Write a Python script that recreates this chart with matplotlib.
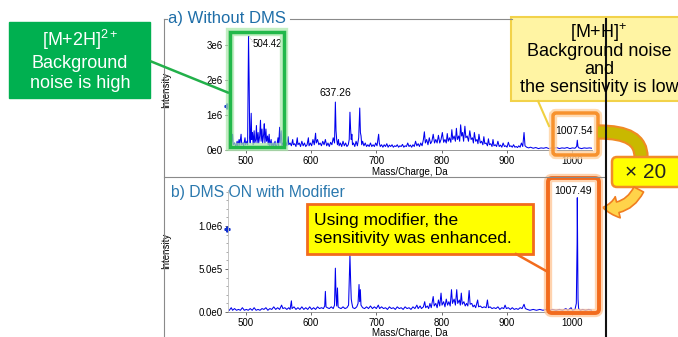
import matplotlib
matplotlib.use('Agg')
import matplotlib.pyplot as plt
import numpy as np
from matplotlib.patches import FancyBboxPatch, Rectangle, FancyArrowPatch
from matplotlib.path import Path
from matplotlib.patches import PathPatch

plt.rcParams['font.family'] = ['Liberation Sans', 'DejaVu Sans']
plt.rcParams['mathtext.fontset'] = 'custom'
plt.rcParams['mathtext.rm'] = 'Liberation Sans'
plt.rcParams['mathtext.it'] = 'Liberation Sans:italic'
plt.rcParams['mathtext.bf'] = 'Liberation Sans:bold'

# ---------------- data ----------------
# panel a) Without DMS : profile (m/z, intensity in units of 1e6)
mz_a = [475, 477, 478, 480, 481, 483, 485, 487, 488, 490, 491, 493, 494, 496, 497, 499, 500, 502, 503,
        504.4, 505.4, 506.2, 507, 508.5, 509.3, 510.5, 511.5, 513, 514, 515.5, 516.5, 517.5, 519, 520,
        521.5, 522.7, 523.7, 525, 526, 527.5, 528.5, 529.5, 531, 532, 533.5, 534.5, 536, 537, 539, 540,
        542, 543, 545, 546, 548, 549.5, 550.5, 552, 553, 554.5, 555.5, 557, 559, 561, 563, 565, 566, 568,
        570, 572, 573, 575, 577, 579, 580, 582, 584, 586, 588, 590, 592, 594, 596, 597, 599, 601, 603,
        605, 607, 608, 610, 612, 614, 616, 618, 620, 622, 624, 626, 628, 630, 632, 634, 636, 637.3, 638.3,
        639.3, 640.5, 642, 643, 645, 647, 649, 651, 653, 655, 657, 658.5, 659.6, 660.6, 661.6, 662.5,
        663.5, 665, 667, 669, 671, 673, 674.6, 675.6, 676.6, 677.6, 679, 681, 683, 685, 687, 689, 691,
        693, 695, 697, 699, 701, 703.5, 704.5, 706, 708, 710, 712, 714, 716, 718, 720, 722, 724, 726, 728,
        730, 732, 734, 736, 738, 740, 742, 744, 746, 748, 750, 752, 754, 756, 758, 760, 762, 764, 766,
        768, 770, 772, 773.5, 775, 777, 779, 781, 783, 785, 787, 789, 791, 793, 795, 797, 799, 801, 803,
        805, 807, 808.5, 810, 812, 814, 815.5, 817, 819, 821, 822.5, 824, 826, 827.5, 829, 830.5, 832,
        833.5, 835.5, 837, 839, 841, 843, 845, 847, 848.5, 850, 852, 854, 855.5, 857, 859, 861, 863,
        864.5, 866, 868, 870, 871.5, 873, 875, 877, 878.5, 880, 882, 884, 886, 888, 890, 892, 894, 896,
        898, 900, 902, 904, 906, 908, 910, 912, 914, 916, 918, 920, 922, 924, 926, 927.5, 930, 933, 936,
        940, 944, 948, 952, 956, 960, 964, 968, 972, 976, 980, 984, 988, 992, 996, 1000, 1004, 1006.5,
        1007.5, 1008.5, 1010, 1014, 1018, 1022, 1026, 1030]
int_a = [0.15, 0.3, 0.12, 0.45, 0.15, 0.2, 0.1, 0.25, 0.12, 0.3, 0.14, 0.45, 0.15, 0.2, 0.12, 0.35, 0.15, 0.25, 0.15,
         3.25, 1.9, 0.35, 0.2, 1.05, 0.3, 0.5, 0.15, 0.55, 0.2, 0.3, 0.7, 0.2, 0.5, 0.2,
         0.4, 0.85, 0.25, 0.6, 0.2, 0.45, 0.75, 0.2, 0.6, 0.25, 0.4, 0.15, 0.45, 0.12, 0.3, 0.1,
         0.2, 0.1, 0.25, 0.1, 0.15, 0.35, 0.12, 0.65, 0.2, 0.55, 0.12, 0.2, 0.1, 0.25, 0.12, 0.38, 0.15, 0.2,
         0.12, 0.3, 0.15, 0.18, 0.1, 0.35, 0.15, 0.2, 0.1, 0.25, 0.12, 0.2, 0.1, 0.15, 0.35, 0.12, 0.2, 0.12, 0.3,
         0.15, 0.48, 0.2, 0.3, 0.15, 0.2, 0.12, 0.25, 0.15, 0.3, 0.12, 0.2, 0.1, 0.22, 0.15, 0.35, 0.2, 1.37, 0.55,
         0.3, 0.15, 0.3, 0.12, 0.2, 0.1, 0.25, 0.12, 0.2, 0.1, 0.15, 0.3, 1.08, 0.6, 0.3, 0.45,
         0.15, 0.2, 0.1, 0.25, 0.12, 0.35, 1.2, 0.5, 0.4, 0.15, 0.25, 0.12, 0.2, 0.1, 0.15, 0.1, 0.2,
         0.1, 0.15, 0.1, 0.2, 0.12, 0.45, 0.2, 0.1, 0.15, 0.08, 0.15, 0.1, 0.18, 0.08, 0.14, 0.1, 0.15, 0.08, 0.12,
         0.1, 0.15, 0.08, 0.12, 0.1, 0.16, 0.08, 0.12, 0.1, 0.2, 0.1, 0.14, 0.08, 0.15, 0.1, 0.25, 0.12, 0.18, 0.1,
         0.2, 0.12, 0.3, 0.52, 0.2, 0.3, 0.15, 0.35, 0.18, 0.25, 0.45, 0.2, 0.3, 0.2, 0.42, 0.2, 0.3, 0.5, 0.22,
         0.3, 0.2, 0.47, 0.25, 0.35, 0.22, 0.58, 0.3, 0.4, 0.25, 0.62, 0.3, 0.4, 0.25, 0.72, 0.4, 0.5,
         0.25, 0.68, 0.35, 0.4, 0.25, 0.55, 0.3, 0.35, 0.2, 0.5, 0.25, 0.3, 0.18, 0.45, 0.2, 0.25, 0.15,
         0.38, 0.18, 0.2, 0.12, 0.32, 0.15, 0.18, 0.1, 0.3, 0.12, 0.15, 0.1, 0.25, 0.1, 0.14, 0.08, 0.2, 0.1,
         0.12, 0.08, 0.22, 0.1, 0.12, 0.08, 0.15, 0.08, 0.1, 0.07, 0.12, 0.08, 0.2, 0.1, 0.5, 0.12, 0.08, 0.06, 0.08,
         0.05, 0.07, 0.04, 0.06, 0.05, 0.07, 0.04, 0.06, 0.05, 0.07, 0.04, 0.06, 0.05, 0.07, 0.04, 0.06, 0.05, 0.1,
         0.28, 0.1, 0.06, 0.04, 0.06, 0.05, 0.06, 0.05]

# panel b) DMS ON with Modifier : profile (m/z, intensity in units of 1e6)
mz_b = [475, 478, 480, 483, 486, 489, 492, 495, 498, 501, 504, 507, 510, 513, 516, 519, 522, 525, 528, 531,
        534, 537, 540, 543, 546, 549, 552, 555, 557, 560, 563, 566, 568, 570, 571, 574, 577, 580, 583, 586,
        589, 592, 595, 598, 601, 604, 607, 610, 613, 616, 619, 621, 622, 623, 625, 628, 631, 634, 636,
        637.3, 638.3, 639.3, 640.5, 641.5, 643, 646, 649, 652, 655, 657.5, 659.6, 660.6, 661.6, 662.6, 664,
        667, 670, 672, 673.5, 674.5, 675.5, 676.5, 679, 682, 685, 688, 691, 694, 697, 700, 703, 705, 708,
        711, 714, 717, 720, 723, 726, 729, 732, 735, 738, 741, 744, 747, 750, 753, 756, 759, 762, 764, 767,
        769, 772, 774, 775.5, 778, 780, 782, 784, 787, 788.5, 791, 793, 795, 797, 799, 800.5, 803, 805,
        807, 809, 811, 813, 815, 816.5, 819, 821, 823, 824.5, 827, 828.5, 830, 831.5, 834, 836, 838, 840,
        842, 843.5, 846, 848, 850, 852, 855, 856.5, 859, 862, 865, 868, 870, 871.5, 874, 877, 880, 883,
        886, 889, 892, 895, 897, 899, 902, 905, 908, 911, 914, 917, 920, 923, 926, 928, 931, 935, 940,
        945, 950, 955, 960, 965, 970, 975, 980, 985, 990, 993, 998, 1000, 1004, 1006, 1007.2, 1007.5,
        1008, 1008.6, 1009.5, 1012, 1016, 1020, 1025, 1030]
int_b = [0.02, 0.05, 0.02, 0.04, 0.02, 0.03, 0.02, 0.05, 0.02, 0.03, 0.02, 0.04, 0.02, 0.05, 0.02, 0.03, 0.02, 0.04, 0.03, 0.05,
         0.02, 0.04, 0.03, 0.06, 0.03, 0.05, 0.03, 0.08, 0.04, 0.05, 0.03, 0.05, 0.03, 0.13, 0.04, 0.06, 0.03, 0.05, 0.03, 0.06,
         0.03, 0.05, 0.03, 0.06, 0.03, 0.05, 0.03, 0.06, 0.04, 0.05, 0.04, 0.07, 0.24, 0.06, 0.05, 0.04, 0.06, 0.04, 0.08,
         0.51, 0.2, 0.07, 0.28, 0.06, 0.05, 0.04, 0.06, 0.04, 0.05, 0.08, 0.66, 0.38, 0.15, 0.1, 0.05,
         0.04, 0.06, 0.1, 0.32, 0.12, 0.26, 0.08, 0.05, 0.04, 0.06, 0.04, 0.07, 0.04, 0.06, 0.04, 0.08, 0.04, 0.06,
         0.04, 0.05, 0.03, 0.06, 0.04, 0.05, 0.03, 0.06, 0.04, 0.05, 0.03, 0.06, 0.04, 0.05, 0.03, 0.06, 0.04, 0.08, 0.04, 0.07,
         0.04, 0.06, 0.12, 0.05, 0.07, 0.04, 0.1, 0.05, 0.18, 0.07, 0.1, 0.05, 0.14, 0.07, 0.22, 0.08, 0.12, 0.06,
         0.15, 0.08, 0.12, 0.07, 0.26, 0.1, 0.15, 0.08, 0.26, 0.1, 0.14, 0.08, 0.22, 0.09, 0.12, 0.07, 0.1, 0.07,
         0.25, 0.09, 0.1, 0.06, 0.08, 0.05, 0.14, 0.06, 0.07, 0.05, 0.06, 0.05, 0.14, 0.05, 0.06, 0.04, 0.05, 0.04,
         0.06, 0.03, 0.05, 0.04, 0.08, 0.04, 0.05, 0.03, 0.05, 0.03, 0.04, 0.03, 0.05, 0.04, 0.09, 0.04, 0.03, 0.02, 0.03,
         0.02, 0.03, 0.02, 0.03, 0.02, 0.03, 0.02, 0.03, 0.02, 0.04, 0.02, 0.05, 0.02, 0.03, 0.1, 0.8, 1.33,
         0.8, 0.15, 0.04, 0.02, 0.03, 0.02, 0.03, 0.02]

# peak labels (m/z) and heights (1e6)
peaks_a = [504.42, 637.26, 1007.54]
peaks_a_h = [3.25, 1.37, 0.28]
peaks_b = [1007.49]
peaks_b_h = [1.33]

xticks = [500, 600, 700, 800, 900, 1000]
yticks_a = [0, 1e6, 2e6, 3e6]
yticklabels_a = ['0e0', '1e6', '2e6', '3e6']
yticks_b = [0, 5e5, 1e6]
yticklabels_b = ['0.0e0', '5.0e5', '1.0e6']

title_a = 'a) Without DMS'
title_b = 'b) DMS ON with Modifier'
xlabel = 'Mass/Charge, Da'
ylabel = 'Intensity'
note_top_lines = ['[M+H]$^{\\mathregular{+}}$', 'Background noise', 'and', 'the sensitivity is low']

# ---------------- figure ----------------
W, H = 678, 337
fig = plt.figure(figsize=(W / 100, H / 100), dpi=100)
fig.patch.set_facecolor('white')


def rect_ax(x0, y0, x1, y1):
    return [x0 / W, 1 - y1 / H, (x1 - x0) / W, (y1 - y0) / H]


axa = fig.add_axes(rect_ax(228, 30, 592, 150))
axb = fig.add_axes(rect_ax(228, 190, 592, 312))

spec_color = '#0000ee'
axa.plot(mz_a, np.array(int_a) * 1e6, color=spec_color, lw=0.75)
axb.plot(mz_b, np.array(int_b) * 1e6, color=spec_color, lw=0.75)

for ax, yt, ytl, ymax, lx, ly in [(axa, yticks_a, yticklabels_a, 3.43e6, -0.155, -0.14),
                                  (axb, yticks_b, yticklabels_b, 1.42e6, -0.155, -0.13)]:
    ax.set_xlim(473, 1030)
    ax.set_ylim(0, ymax)
    ax.set_xticks(xticks)
    ax.set_yticks(yt)
    ax.set_yticklabels(ytl)
    ax.tick_params(labelsize=7, length=2.5, width=0.6, color='#555555', pad=1.5)
    for s in ['top', 'right']:
        ax.spines[s].set_visible(False)
    ax.spines['left'].set_color('#bbbbbb')
    ax.spines['bottom'].set_color('#888888')
    ax.spines['left'].set_linewidth(0.6)
    ax.spines['bottom'].set_linewidth(0.6)
    ax.set_xlabel(xlabel, fontsize=7)
    ax.set_ylabel(ylabel, fontsize=7)
    ax.xaxis.set_label_coords(0.5, ly)
    ax.yaxis.set_label_coords(lx, 0.5)
    ax.patch.set_alpha(0)

axb.yaxis.set_minor_locator(matplotlib.ticker.MultipleLocator(1e5))
axb.tick_params(which='minor', length=1.5, width=0.5, color='#888888')

# small blue cursor markers
axa.plot([472], [1.27e6], marker='P', ms=3.5, color='#1030d0', clip_on=False)
axb.plot([472], [0.97e6], marker='P', ms=3.5, color='#1030d0', clip_on=False)

# peak labels
axa.text(peaks_a[0] + 6.5, peaks_a_h[0] * 1e6 * 0.93, f'{peaks_a[0]:.2f}', fontsize=7, ha='left', va='center')
axa.text(peaks_a[1], peaks_a_h[1] * 1e6 + 0.12e6, f'{peaks_a[1]:.2f}', fontsize=7.5, ha='center', va='bottom')
axa.text(peaks_a[2] - 5, peaks_a_h[2] * 1e6 + 0.12e6, f'{peaks_a[2]:.2f}', fontsize=7.5, ha='center', va='bottom')
axb.text(peaks_b[0] - 6, peaks_b_h[0] * 1e6 + 0.02e6, f'{peaks_b[0]:.2f}', fontsize=7.5, ha='center', va='bottom')
axa.plot([peaks_a[0] + 0.5, peaks_a[0] + 6], [3.25e6, 3.1e6], color='#555555', lw=0.5, ls=':')

# ---------------- overlay (pixel coords) ----------------
ov = fig.add_axes([0, 0, 1, 1], zorder=10)
ov.set_xlim(0, W)
ov.set_ylim(H, 0)
ov.axis('off')

frame_c = '#8a8a8a'
# panel frames
ov.plot([164, 164], [19, 176], color=frame_c, lw=0.8)
ov.plot([164, 167], [19, 19], color=frame_c, lw=0.8)
ov.plot([290, 512], [19, 19], color=frame_c, lw=0.8)
ov.plot([164, 606], [177, 177], color=frame_c, lw=0.8)
ov.plot([164, 164], [177, 337], color=frame_c, lw=0.8)
ov.plot([606, 606], [19, 337], color='#111111', lw=1.5)

ov.text(168, 19, title_a, fontsize=12, color='#1f6ea8', ha='left', va='center')
ov.text(171, 192, title_b, fontsize=11.3, color='#2a78ae', ha='left', va='center')

# green callout
ov.plot([150, 229], [61, 93], color='#22b04a', lw=1.8, solid_capstyle='butt')
ov.add_patch(Rectangle((9, 22), 141, 76, facecolor='#00b050', edgecolor='#00b050'))
ov.text(80, 60, '[M+2H]$^{\\mathregular{2+}}$\nBackground\nnoise is high', color='white',
        fontsize=13, ha='center', va='center', linespacing=1.2)
# green highlight rect with glow
ov.add_patch(Rectangle((230, 32), 54, 115, fill=False, edgecolor='#a8e8a8', lw=6, alpha=0.7))
ov.add_patch(Rectangle((230, 32), 54, 115, fill=False, edgecolor='#22b84a', lw=2.5))

# top yellow callout
ov.plot([538, 549], [101, 126], color='#f0d040', lw=1.5)
ov.add_patch(Rectangle((511, 17), 170, 84, facecolor='#fff4a3', edgecolor='#f2d24a', lw=1.5))
for txt, yy in zip(note_top_lines, [30, 49, 67.5, 86]):
    ov.text(599, yy, txt, fontsize=13, ha='center', va='center_baseline', color='black')

# top orange rect with glow
ov.add_patch(FancyBboxPatch((553, 113), 45, 42, boxstyle='round,pad=0,rounding_size=3',
                            fill=False, edgecolor='#ffd2a0', lw=6, alpha=0.8))
ov.add_patch(FancyBboxPatch((553, 113), 45, 42, boxstyle='round,pad=0,rounding_size=3',
                            fill=False, edgecolor='#f7922e', lw=2.5))

# curved band from top orange box to x20 box
band = Path([(598, 132), (628, 132), (641, 140), (641, 157)],
            [Path.MOVETO, Path.CURVE4, Path.CURVE4, Path.CURVE4])
ov.add_patch(PathPatch(band, fill=False, edgecolor='#f08a24', lw=11, capstyle='butt'))
ov.add_patch(PathPatch(band, fill=False, edgecolor='#c9b800', lw=8, capstyle='butt'))

# x20 box
ov.add_patch(FancyBboxPatch((612, 157), 70, 30, boxstyle='round,pad=0,rounding_size=5',
                            facecolor='#ffff00', edgecolor='#f28c28', lw=1.8))
ov.text(646, 173, '× 20', fontsize=15, ha='center', va='center', color='#222222')

# curved arrow from x20 box to lower panel
arr = FancyArrowPatch((640, 187), (600, 207), connectionstyle='arc3,rad=-0.4',
                      arrowstyle='simple,head_width=1.3,head_length=0.9,tail_width=0.65',
                      mutation_scale=12, facecolor='#ffd34a', edgecolor='#f07d20', lw=1.2)
ov.add_patch(arr)

# bottom orange rect with glow
ov.add_patch(FancyBboxPatch((548, 178), 51, 135, boxstyle='round,pad=0,rounding_size=4',
                            fill=False, edgecolor='#ffc89a', lw=6, alpha=0.8))
ov.add_patch(FancyBboxPatch((548, 178), 51, 135, boxstyle='round,pad=0,rounding_size=4',
                            fill=False, edgecolor='#f26b1d', lw=2.8))

# bottom yellow callout
ov.plot([516, 548], [254, 272], color='#f26b1d', lw=1.8)
ov.add_patch(Rectangle((307, 204), 226, 50, facecolor='#ffff00', edgecolor='#f26b1d', lw=2))
ov.text(314, 229, 'Using modifier, the\nsensitivity was enhanced.', fontsize=12.5,
        ha='left', va='center', linespacing=1.25, color='black')

fig.savefig('out.png', dpi=100)
